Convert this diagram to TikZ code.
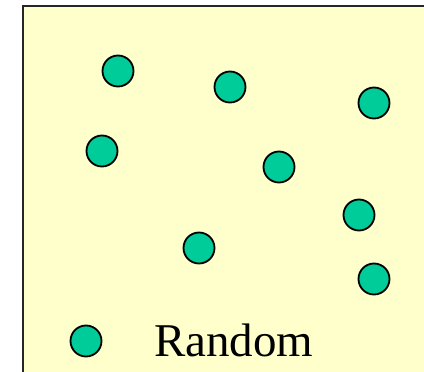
\documentclass[tikz,border=0pt]{standalone}
\usepackage{fontspec}
\setmainfont{Liberation Serif}
\definecolor{paper}{HTML}{FFFFCC}
\definecolor{seagreen}{HTML}{00CC99}
\tikzset{ball/.style={circle,draw=black,line width=1.3pt,fill=seagreen,minimum size=31*0.025cm,inner sep=0pt}}
\begin{document}
\begin{tikzpicture}[x=0.025cm,y=-0.025cm]
\useasboundingbox (0,0) rectangle (424,371);
\clip (0,0) rectangle (424,371);
\draw[line width=2pt,draw=black!85,fill=paper] (23,6) rectangle (440,390);
\node[ball] (b1) at (118,71) {};
\node[ball] (b2) at (230,87) {};
\node[ball] (b3) at (374,103) {};
\node[ball] (b4) at (102,151) {};
\node[ball] (b5) at (279,167) {};
\node[ball] (b6) at (359,215) {};
\node[ball] (b7) at (199,248) {};
\node[ball] (b8) at (374,279) {};
\node[ball] (key) at (86,341) {};
\node[anchor=base west,inner sep=0pt,font=\fontsize{33.4}{40}\selectfont] (lbl) at (154,356) {Random};
\end{tikzpicture}
\end{document}
